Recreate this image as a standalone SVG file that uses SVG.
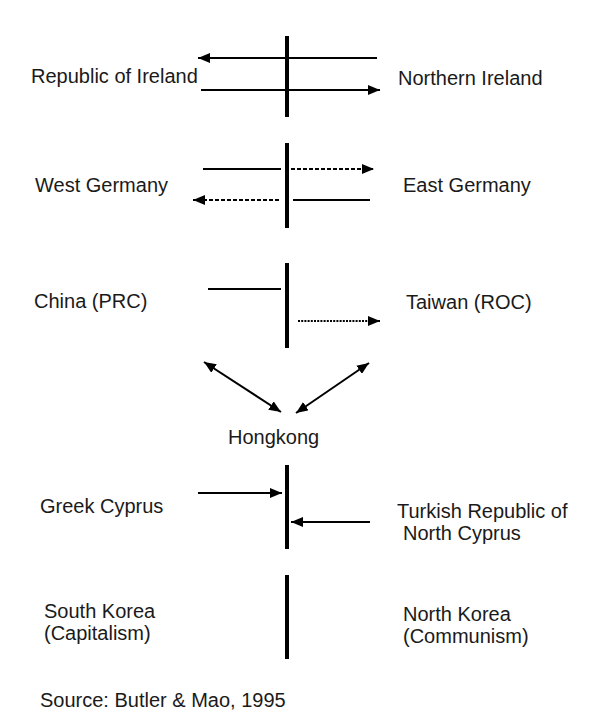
<svg xmlns="http://www.w3.org/2000/svg" width="599" height="726" viewBox="0 0 599 726">
<style>
  text { font-family: "Liberation Sans", Arial, sans-serif; font-size: 20px; fill: #1a1a1a; }
  .bar { stroke: #000; stroke-width: 4; fill: none; }
  .ln { stroke: #000; stroke-width: 2; fill: none; }
  .dash { stroke-dasharray: 4 2; }
  .dot { stroke-dasharray: 2 1.2; }
  .arr { marker-end: url(#ah); }
  .arr2 { marker-start: url(#ah); marker-end: url(#ah); }
</style>
<defs>
  <marker id="ah" markerUnits="userSpaceOnUse" markerWidth="12" markerHeight="10" refX="12" refY="5" orient="auto-start-reverse" viewBox="0 0 12 10">
    <path d="M0,0 L12,5 L0,10 z" fill="#000" stroke="none"/>
  </marker>
</defs>
<rect width="599" height="726" fill="#fff"/>

<g id="barriers">
  <line class="bar" x1="287" y1="36" x2="287" y2="117"/>
  <line class="bar" x1="287" y1="143" x2="287" y2="228"/>
  <line class="bar" x1="287" y1="263" x2="287" y2="348"/>
  <line class="bar" x1="287" y1="465" x2="287" y2="549"/>
  <line class="bar" x1="287" y1="575" x2="287" y2="659"/>
</g>

<g id="connectors">
  <line class="ln arr" x1="377" y1="58" x2="198" y2="58"/>
  <line class="ln arr" x1="201" y1="90" x2="380" y2="90"/>
  <line class="ln" x1="203" y1="169" x2="281" y2="169"/>
  <line class="ln dash arr" x1="291" y1="169" x2="374" y2="169"/>
  <line class="ln dash arr" x1="279" y1="200" x2="193" y2="200"/>
  <line class="ln" x1="293" y1="200" x2="370" y2="200"/>
  <line class="ln" x1="208" y1="289" x2="281" y2="289"/>
  <line class="ln dot arr" x1="298" y1="321" x2="380" y2="321"/>
  <line class="ln arr2" x1="204" y1="362" x2="281" y2="412"/>
  <line class="ln arr2" x1="369" y1="363" x2="296" y2="413"/>
  <line class="ln arr" x1="198" y1="493" x2="282" y2="493"/>
  <line class="ln arr" x1="370" y1="522" x2="291" y2="522"/>
</g>

<g id="republic-of-ireland"><text x="31" y="83">Republic of Ireland</text></g>
<g id="northern-ireland"><text x="398" y="85">Northern Ireland</text></g>
<g id="west-germany"><text x="35" y="192">West Germany</text></g>
<g id="east-germany"><text x="403" y="192">East Germany</text></g>
<g id="china"><text x="34" y="308">China (PRC)</text></g>
<g id="taiwan"><text x="406" y="309">Taiwan (ROC)</text></g>
<g id="hongkong"><text x="228" y="444">Hongkong</text></g>
<g id="greek-cyprus"><text x="40" y="513">Greek Cyprus</text></g>
<g id="north-cyprus"><text x="397" y="518">Turkish Republic of</text><text x="403" y="540">North Cyprus</text></g>
<g id="south-korea"><text x="44" y="618">South Korea</text><text x="44" y="640">(Capitalism)</text></g>
<g id="north-korea"><text x="403" y="621">North Korea</text><text x="403" y="643">(Communism)</text></g>
<g id="source"><text x="40" y="707">Source: Butler &amp; Mao, 1995</text></g>
</svg>
